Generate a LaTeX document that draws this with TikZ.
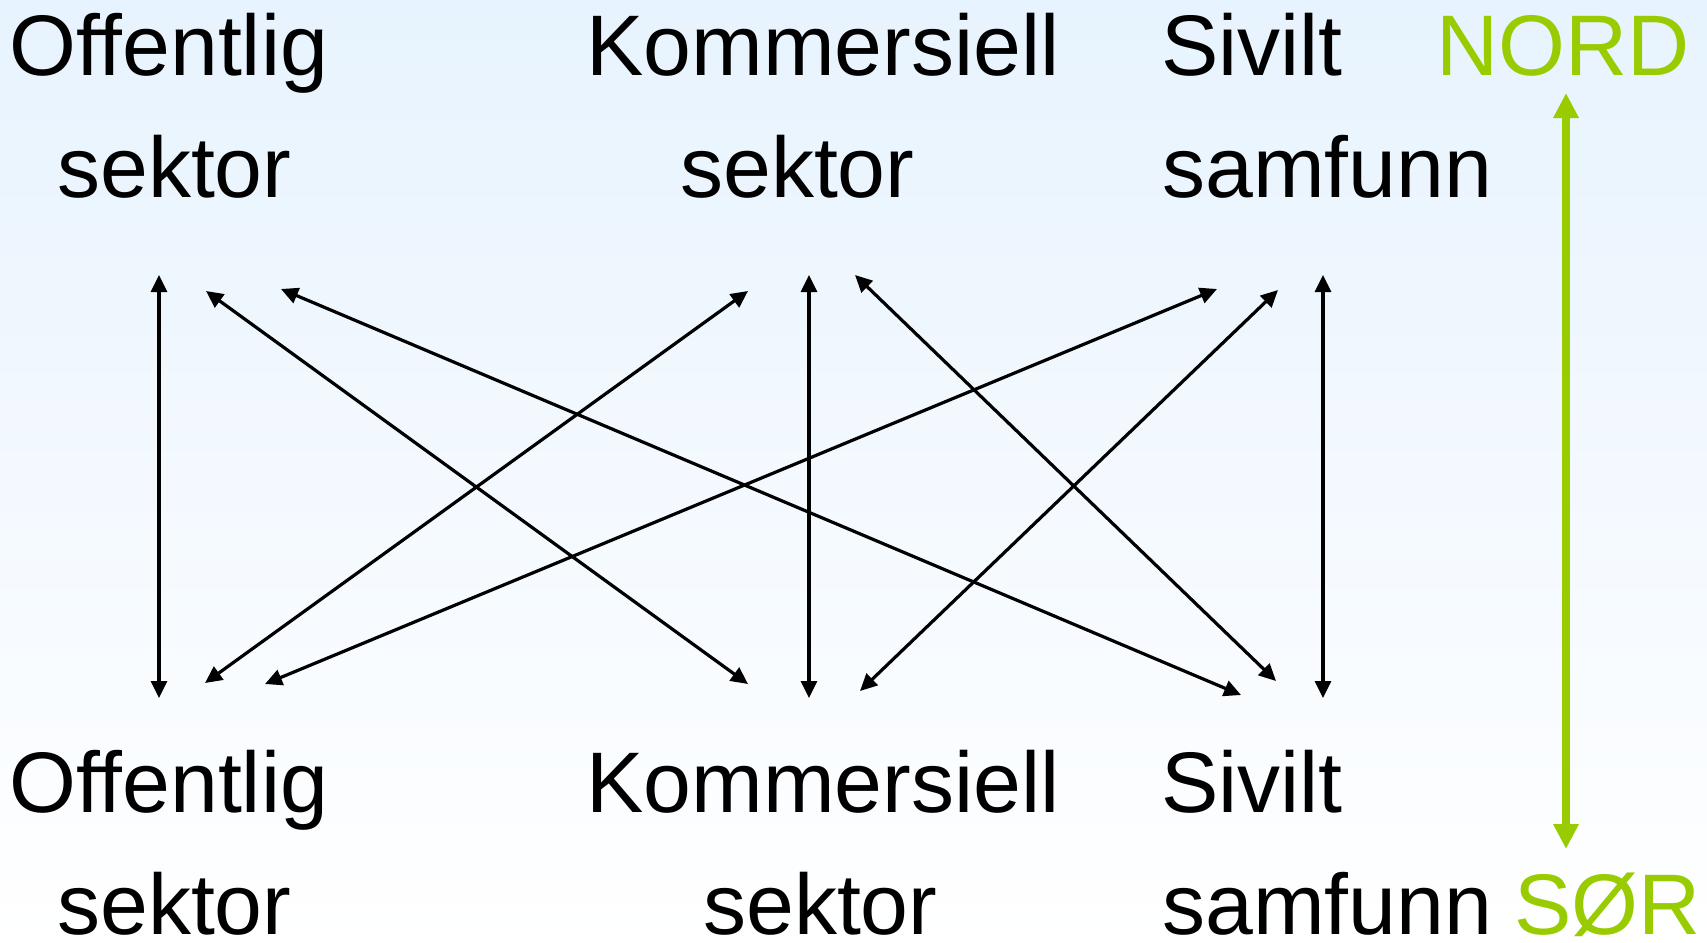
\documentclass[tikz,border=0pt]{standalone}
\usepackage{fontspec}
\setmainfont{Liberation Sans}
\usetikzlibrary{arrows.meta}
\definecolor{nordgreen}{HTML}{99CC00}
\definecolor{bgtop}{RGB}{231,243,254}
\begin{document}
\begin{tikzpicture}[x=1pt,y=-1pt,
  lbl/.style={anchor=base west, inner sep=0pt, font=\fontsize{86}{104}\selectfont},
  link/.style={line width=3.2pt, {Triangle[length=17pt,width=16pt]}-{Triangle[length=17pt,width=16pt]}},
  nsarrow/.style={line width=7.5pt, draw=nordgreen, {Triangle[length=25pt,width=24pt]}-{Triangle[length=25pt,width=24pt]}}]
\shade[top color=bgtop, bottom color=white] (0,0) rectangle (1707,942);
\useasboundingbox (0,0) rectangle (1707,942);
% top labels
\node[lbl] (otA) at (9,75) {Offentlig};
\node[lbl] (otB) at (57,197) {sektor};
\node[lbl] (ktA) at (586,75) {Kommersiell};
\node[lbl] (ktB) at (680,197) {sektor};
\node[lbl] (stA) at (1161,75) {Sivilt};
\node[lbl] (stB) at (1162,197) {samfunn};
\node[lbl, text=nordgreen] (nord) at (1436,75) {NORD};
% bottom labels
\node[lbl] (obA) at (9,812) {Offentlig};
\node[lbl] (obB) at (57,934) {sektor};
\node[lbl] (kbA) at (586,812) {Kommersiell};
\node[lbl] (kbB) at (703,934) {sektor};
\node[lbl] (sbA) at (1161,812) {Sivilt};
\node[lbl] (sbB) at (1162,934) {samfunn};
\node[lbl, text=nordgreen] (sor) at (1514,934) {SØR};
% connector ends
\coordinate (ot1) at (159,275); \coordinate (ob1) at (159,698);
\coordinate (ot2) at (206,291); \coordinate (kb2) at (748,684);
\coordinate (ot3) at (281,289); \coordinate (sb3) at (1241,695);
\coordinate (kt4) at (748,291); \coordinate (ob4) at (205,683);
\coordinate (kt5) at (809,275); \coordinate (kb5) at (809,698);
\coordinate (kt6) at (855,275); \coordinate (sb6) at (1276,681);
\coordinate (st7) at (1217,289); \coordinate (ob7) at (265,684);
\coordinate (st8) at (1278,290); \coordinate (kb8) at (860,691);
\coordinate (st9) at (1323,275); \coordinate (sb9) at (1323,698);
\coordinate (gn) at (1566,93); \coordinate (gs) at (1566,849);
\draw[link] (ot1) -- (ob1);
\draw[link] (ot2) -- (kb2);
\draw[link] (ot3) -- (sb3);
\draw[link] (kt4) -- (ob4);
\draw[link] (kt5) -- (kb5);
\draw[link] (kt6) -- (sb6);
\draw[link] (st7) -- (ob7);
\draw[link] (st8) -- (kb8);
\draw[link] (st9) -- (sb9);
\draw[nsarrow] (gn) -- (gs);
\end{tikzpicture}
\end{document}
